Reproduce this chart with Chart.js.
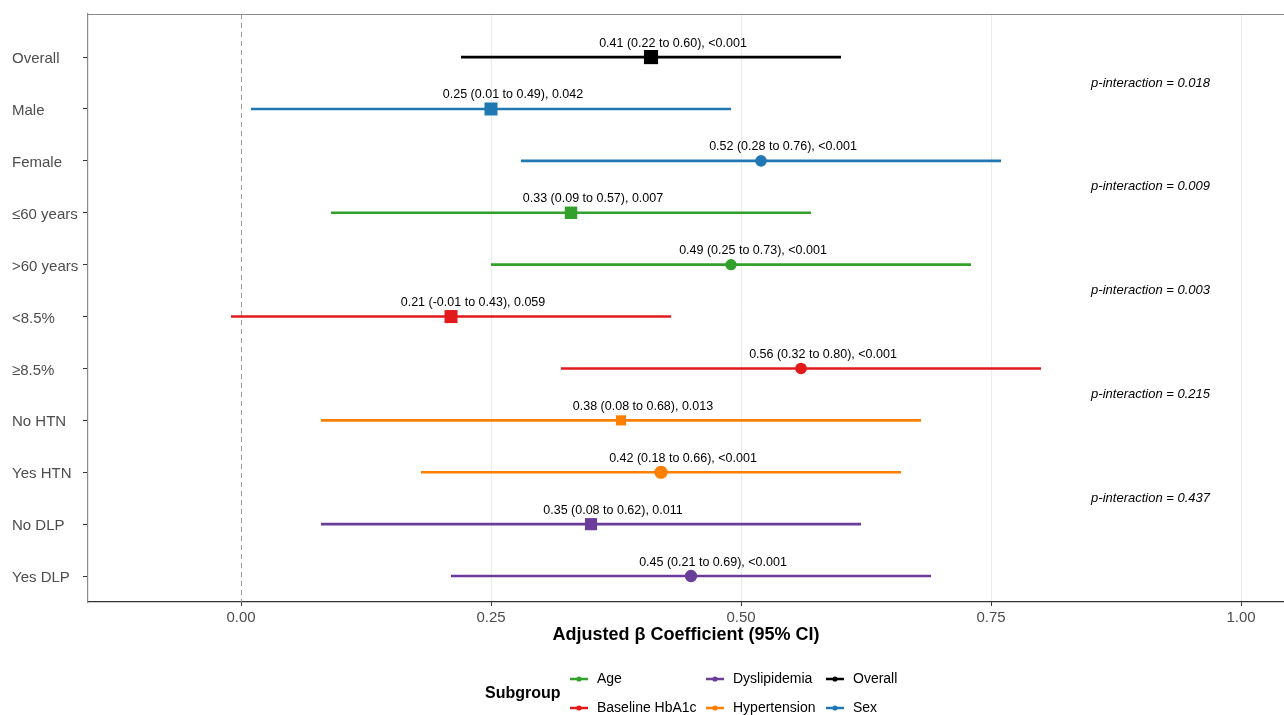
<!DOCTYPE html>
<html>
<head>
<meta charset="utf-8">
<script src="https://cdn.jsdelivr.net/npm/chart.js@4"></script>
<style>
  body { margin: 0; background: #fff; }
  canvas { display: block; }
</style>
</head>
<body>
<canvas id="forest" width="1284" height="715"></canvas>
<script>
//rows of the forest plot, top to bottom
let rows = ["Overall", "Male", "Female", "≤60 years", ">60 years", "<8.5%", "≥8.5%", "No HTN", "Yes HTN", "No DLP", "Yes DLP"];
let groups = ["Overall", "Sex", "Sex", "Age", "Age", "Baseline HbA1c", "Baseline HbA1c", "Hypertension", "Hypertension", "Dyslipidemia", "Dyslipidemia"];
let estimates = [0.41, 0.25, 0.52, 0.33, 0.49, 0.21, 0.56, 0.38, 0.42, 0.35, 0.45];
let lower = [0.22, 0.01, 0.28, 0.09, 0.25, -0.01, 0.32, 0.08, 0.18, 0.08, 0.21];
let upper = [0.60, 0.49, 0.76, 0.57, 0.73, 0.43, 0.80, 0.68, 0.66, 0.62, 0.69];
let pValues = ["<0.001", "0.042", "<0.001", "0.007", "<0.001", "0.059", "<0.001", "0.013", "<0.001", "0.011", "<0.001"];
let pInteraction = ["0.018", "0.009", "0.003", "0.215", "0.437"];
let xTicks = [0, 0.25, 0.5, 0.75, 1.0];

//styling
let groupColors = {
	"Age": "#33a02c",
	"Baseline HbA1c": "#e31a1c",
	"Dyslipidemia": "#6a3d9a",
	"Hypertension": "#ff7f00",
	"Overall": "#000000",
	"Sex": "#1f78b4",
};
let legendOrder = ["Age", "Baseline HbA1c", "Dyslipidemia", "Hypertension", "Overall", "Sex"];
let markerStyles = ["rect", "rect", "circle", "rect", "circle", "rect", "circle", "rect", "circle", "rect", "circle"];
let markerRadius = [10, 9.2, 5.8, 8.8, 5.6, 9.2, 5.8, 7.2, 6.6, 8.6, 6.2];
let font = "'Liberation Sans', Arial, sans-serif";

function fmt(v) {
	return v.toFixed(2);
}

//one line dataset per confidence interval
let intervalSets = rows.map((r, i) => ({
	type: "line",
	data: [{ x: lower[i], y: i }, { x: upper[i], y: i }],
	borderColor: groupColors[groups[i]],
	borderWidth: 2.6,
	pointRadius: 0,
	order: 1,
}));

let pointSet = {
	data: estimates.map((e, i) => ({ x: e, y: i })),
	pointStyle: markerStyles,
	pointRadius: markerRadius,
	backgroundColor: groups.map(g => groupColors[g]),
	borderWidth: 0,
	order: 0,
};

//extra drawing: zero line, top border, text labels, axis title, legend
let decorations = {
	id: "decorations",
	beforeDatasetsDraw(chart) {
		let ctx = chart.ctx;
		let area = chart.chartArea;
		let xs = chart.scales.x;
		ctx.save();
		ctx.strokeStyle = "#9a9a9a";
		ctx.lineWidth = 1;
		ctx.setLineDash([5, 4]);
		let x0 = Math.round(xs.getPixelForValue(0)) + 0.5;
		ctx.beginPath();
		ctx.moveTo(x0, area.top);
		ctx.lineTo(x0, area.bottom);
		ctx.stroke();
		ctx.setLineDash([]);
		ctx.strokeStyle = "#8a8a8a";
		ctx.lineWidth = 1.2;
		ctx.beginPath();
		ctx.moveTo(area.left, area.top + 0.5);
		ctx.lineTo(area.right, area.top + 0.5);
		ctx.stroke();
		ctx.restore();
	},
	afterDraw(chart) {
		let ctx = chart.ctx;
		let area = chart.chartArea;
		let xs = chart.scales.x;
		let ys = chart.scales.y;
		ctx.save();

		//estimate labels
		ctx.fillStyle = "#000";
		ctx.font = "12.5px " + font;
		ctx.textAlign = "center";
		ctx.textBaseline = "middle";
		rows.forEach((r, i) => {
			let txt = fmt(estimates[i]) + " (" + fmt(lower[i]) + " to " + fmt(upper[i]) + "), " + pValues[i];
			ctx.fillText(txt, xs.getPixelForValue(estimates[i]) + 22, ys.getPixelForValue(i) - 14);
		});

		//interaction p-values
		ctx.font = "italic 13px " + font;
		ctx.textAlign = "right";
		pInteraction.forEach((p, k) => {
			ctx.fillText("p-interaction = " + p, 1210, ys.getPixelForValue(0.5 + 2 * k));
		});

		//axis title
		ctx.font = "bold 18px " + font;
		ctx.textAlign = "center";
		ctx.fillText("Adjusted β Coefficient (95% CI)", (area.left + area.right) / 2, 635);

		//legend
		ctx.font = "bold 16px " + font;
		ctx.textAlign = "left";
		ctx.fillText("Subgroup", 485, 694);
		ctx.font = "14px " + font;
		let colX = [570, 706, 826];
		let rowY = [679, 708];
		legendOrder.forEach((g, k) => {
			let kx = colX[Math.floor(k / 2)];
			let ky = rowY[k % 2];
			ctx.strokeStyle = groupColors[g];
			ctx.fillStyle = groupColors[g];
			ctx.lineWidth = 2.5;
			ctx.beginPath();
			ctx.moveTo(kx, ky);
			ctx.lineTo(kx + 18, ky);
			ctx.stroke();
			ctx.beginPath();
			ctx.arc(kx + 9, ky, 2.6, 0, Math.PI * 2);
			ctx.fill();
			ctx.fillStyle = "#000";
			ctx.fillText(g, kx + 27, ky);
		});
		ctx.restore();
	},
};

let forestChart = new Chart(document.getElementById("forest"), {
	type: "scatter",
	data: { datasets: [pointSet].concat(intervalSets) },
	options: {
		responsive: false,
		animation: false,
		layout: { autoPadding: false, padding: { left: 12, top: 14, right: 0, bottom: 0 } },
		plugins: {
			legend: { display: false },
			tooltip: { enabled: false },
		},
		scales: {
			x: {
				type: "linear",
				min: -0.153,
				max: 1.043,
				afterBuildTicks: scale => {
					scale.ticks = xTicks.map(v => ({ value: v }));
				},
				afterFit: scale => {
					scale.height = 113;
					scale.paddingLeft = 0;
					scale.paddingRight = 0;
				},
				ticks: {
					callback: v => fmt(v),
					color: "#4d4d4d",
					font: { family: font, size: 15 },
					padding: 3,
					maxRotation: 0,
				},
				grid: {
					color: c => (c.tick && c.tick.value === 0 ? "rgba(0,0,0,0)" : "#ebebeb"),
					lineWidth: 1,
					tickLength: 4,
					tickColor: "#333",
				},
				border: { color: "#333", width: 1.2 },
			},
			y: {
				type: "linear",
				reverse: true,
				min: -0.83,
				max: 10.5,
				afterBuildTicks: scale => {
					scale.ticks = rows.map((r, i) => ({ value: i }));
				},
				afterFit: scale => {
					scale.width = 76;
					scale.paddingTop = 0;
					scale.paddingBottom = 0;
				},
				ticks: {
					callback: v => rows[v],
					color: "#4d4d4d",
					font: { family: font, size: 15 },
					crossAlign: "far",
					autoSkip: false,
					labelOffset: 2,
				},
				grid: {
					drawOnChartArea: false,
					tickLength: 5,
					tickColor: "#333",
				},
				border: { color: "#8a8a8a", width: 1.2 },
			},
		},
	},
	plugins: [decorations],
});
</script>
</body>
</html>
